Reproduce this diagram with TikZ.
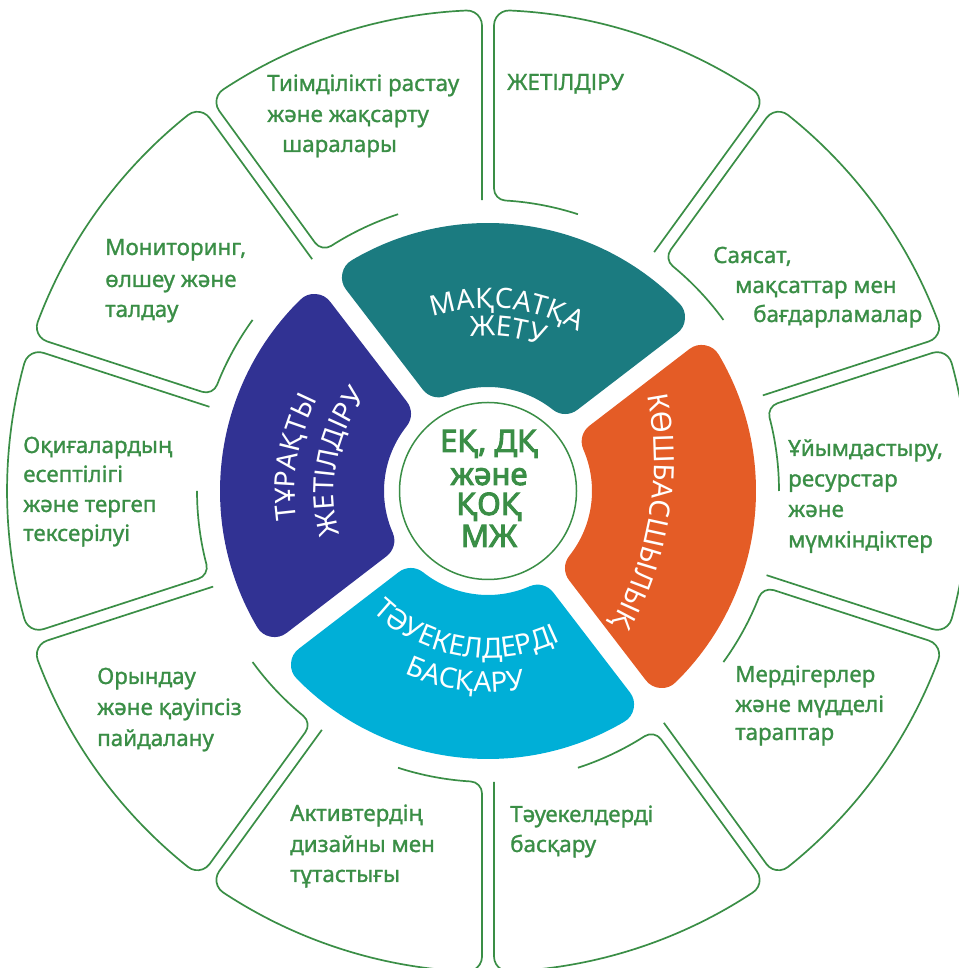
\documentclass[tikz,border=0pt]{standalone}
\usepackage{fontspec}
\setmainfont{Noto Sans}
\newfontfamily\lblfont{Noto Sans}[FakeBold=1.2]
\newfontfamily\ctrfont{Noto Sans}[FakeBold=3.2]
\usetikzlibrary{decorations.text}
\definecolor{lgreen}{HTML}{3A8E46}
\definecolor{cteal}{HTML}{1B7B80}
\definecolor{corange}{HTML}{E45C26}
\definecolor{ccyan}{HTML}{00AFD7}
\definecolor{cpurple}{HTML}{313293}
\newcommand\coltxt{\fontsize{28}{28}\selectfont\color{white}}
\begin{document}
\begin{tikzpicture}[x=1pt,y=1pt,
  lbl/.style={text=lgreen, font=\lblfont\fontsize{22.4}{30}\selectfont, inner sep=0pt, anchor=base west},
  ctr/.style={text=lgreen, font=\ctrfont\fontsize{31}{32}\selectfont, inner sep=0pt, anchor=base},
  outseg/.style={draw=lgreen, line width=1.7pt, line join=round},
  colseg/.style={line width=40pt, line join=round},
  curvetext/.style={decorate, decoration={text along path, text align=center, text={|\coltxt|#1}}}
]
\useasboundingbox (0,0) rectangle (958,968);
\begin{scope}[shift={(488,477)}]
% ---------- outer ring of ten open outlined segments
\def\Ro{481}\def\ri{291}\def\gapd{6}\def\rhoo{15}\def\rhoi{12}
\foreach \A in {18,54,...,342} {
  \pgfmathsetmacro\B{\A+36}
  \pgfmathsetmacro\phio{asin((\gapd+\rhoo)/(\Ro-\rhoo))}
  \pgfmathsetmacro\tA{(\Ro-\rhoo)*cos(\phio)}
  \pgfmathsetmacro\aT{atan(\gapd/\tA)}
  \pgfmathsetmacro\rT{\tA/cos(\aT)}
  \pgfmathsetmacro\psii{asin((\gapd+\rhoi)/(\ri+\rhoi))}
  \pgfmathsetmacro\tI{(\ri+\rhoi)*cos(\psii)}
  \pgfmathsetmacro\aI{atan(\gapd/\tI)}
  \pgfmathsetmacro\rI{\tI/cos(\aI)}
  \pgfmathsetmacro\aO{asin(\gapd/\ri)}
  \draw[outseg] (\A+\aO:\ri pt) -- (\A+\aT:\rT pt)
     arc[start angle=\A-90, end angle=\A+\phio, radius=\rhoo pt]
     arc[start angle=\A+\phio, end angle=\B-\phio, radius=\Ro pt]
     arc[start angle=\B-\phio, end angle=\B+90, radius=\rhoo pt]
     -- (\B-\aI:\rI pt)
     arc[start angle=\B+90, end angle=\B-\psii+180, radius=\rhoi pt]
     arc[start angle=\B-\psii, end angle=\A+18, radius=\ri pt];
}
% ---------- coloured inner ring
\pgfmathsetmacro\ei{asin(30/124)}
\pgfmathsetmacro\eo{asin(30/248)}
\foreach \A/\col in {37.5/cteal,127.5/cpurple,217.5/ccyan,-52.5/corange}{
  \pgfmathsetmacro\B{\A+90}
  \filldraw[colseg, fill=\col, draw=\col] (\A+\ei:124pt) -- (\A+\eo:248pt)
    arc[start angle=\A+\eo, end angle=\B-\eo, radius=248pt]
    -- (\B-\ei:124pt)
    arc[start angle=\B-\ei, end angle=\A+\ei, radius=124pt] -- cycle;
}
% curved white texts
\path[curvetext={МАҚСАТҚА}] (144:183pt) arc[start angle=144, end angle=24, radius=183pt];
\path[curvetext={ЖЕТУ}] (143:155pt) arc[start angle=143, end angle=23, radius=155pt];
\path[curvetext={КӨШБАСШЫЛЫҚ}, shift={(-166,31)}] (20.8:332pt) arc[start angle=20.8, end angle=-39.2, radius=332pt];
\path[curvetext={ТӘУЕКЕЛДЕРДІ}] (201:167pt) arc[start angle=201, end angle=321, radius=167pt];
\path[curvetext={БАСҚАРУ}] (203:201pt) arc[start angle=203, end angle=323, radius=201pt];
\path[curvetext={ТҰРАҚТЫ}] (230:193pt) arc[start angle=230, end angle=110, radius=193pt];
\path[curvetext={ЖЕТІЛДІРУ}] (229:154pt) arc[start angle=229, end angle=109, radius=154pt];
% centre
\node[draw=lgreen, line width=1.5pt, circle, minimum size=177pt, inner sep=0pt] (cc) at (0,0) {};
\end{scope}
\node[ctr] (c1) at (489,516) {ЕҚ, ДҚ};
\node[ctr] (c2) at (489,483) {және};
\node[ctr] (c3) at (489,453) {ҚОҚ};
\node[ctr] (c4) at (489,421) {МЖ};
% ---------- outer labels
\node[lbl] (l1a) at (507,878) {ЖЕТІЛДІРУ};
\node[lbl] (l2a) at (713,705) {Саясат,};
\node[lbl] (l2b) at (735,675) {мақсаттар мен};
\node[lbl] (l2c) at (753,646) {бағдарламалар};
\node[lbl] (l3a) at (788,512) {Ұйымдастыру,};
\node[lbl] (l3b) at (788,481.5) {ресурстар};
\node[lbl] (l3c) at (788,451) {және};
\node[lbl] (l3d) at (788,420.5) {мүмкіндіктер};
\node[lbl] (l4a) at (735,286) {Мердігерлер};
\node[lbl] (l4b) at (735,256) {және мүдделі};
\node[lbl] (l4c) at (735,228) {тараптар};
\node[lbl] (l5a) at (510,146) {Тәуекелдерді};
\node[lbl] (l5b) at (510,116) {басқару};
\node[lbl] (l6a) at (290,147) {Активтердің};
\node[lbl] (l6b) at (290,116) {дизайны мен};
\node[lbl] (l6c) at (290,86) {тұтастығы};
\node[lbl] (l7a) at (97,284) {Орындау};
\node[lbl] (l7b) at (97,253) {және қауіпсіз};
\node[lbl] (l7c) at (97,222) {пайдалану};
\node[lbl] (l8a) at (23,515) {Оқиғалардың};
\node[lbl] (l8b) at (23,486) {есептілігі};
\node[lbl] (l8c) at (23,456) {және тергеп};
\node[lbl] (l8d) at (23,427) {тексерілуі};
\node[lbl] (l9a) at (105,713) {Мониторинг,};
\node[lbl] (l9b) at (105,681) {өлшеу және};
\node[lbl] (l9c) at (105,651) {талдау};
\node[lbl] (l10a) at (267,877) {Тиімділікті растау};
\node[lbl] (l10b) at (267,846) {және жақсарту};
\node[lbl] (l10c) at (282,816) {шаралары};
\end{tikzpicture}
\end{document}
